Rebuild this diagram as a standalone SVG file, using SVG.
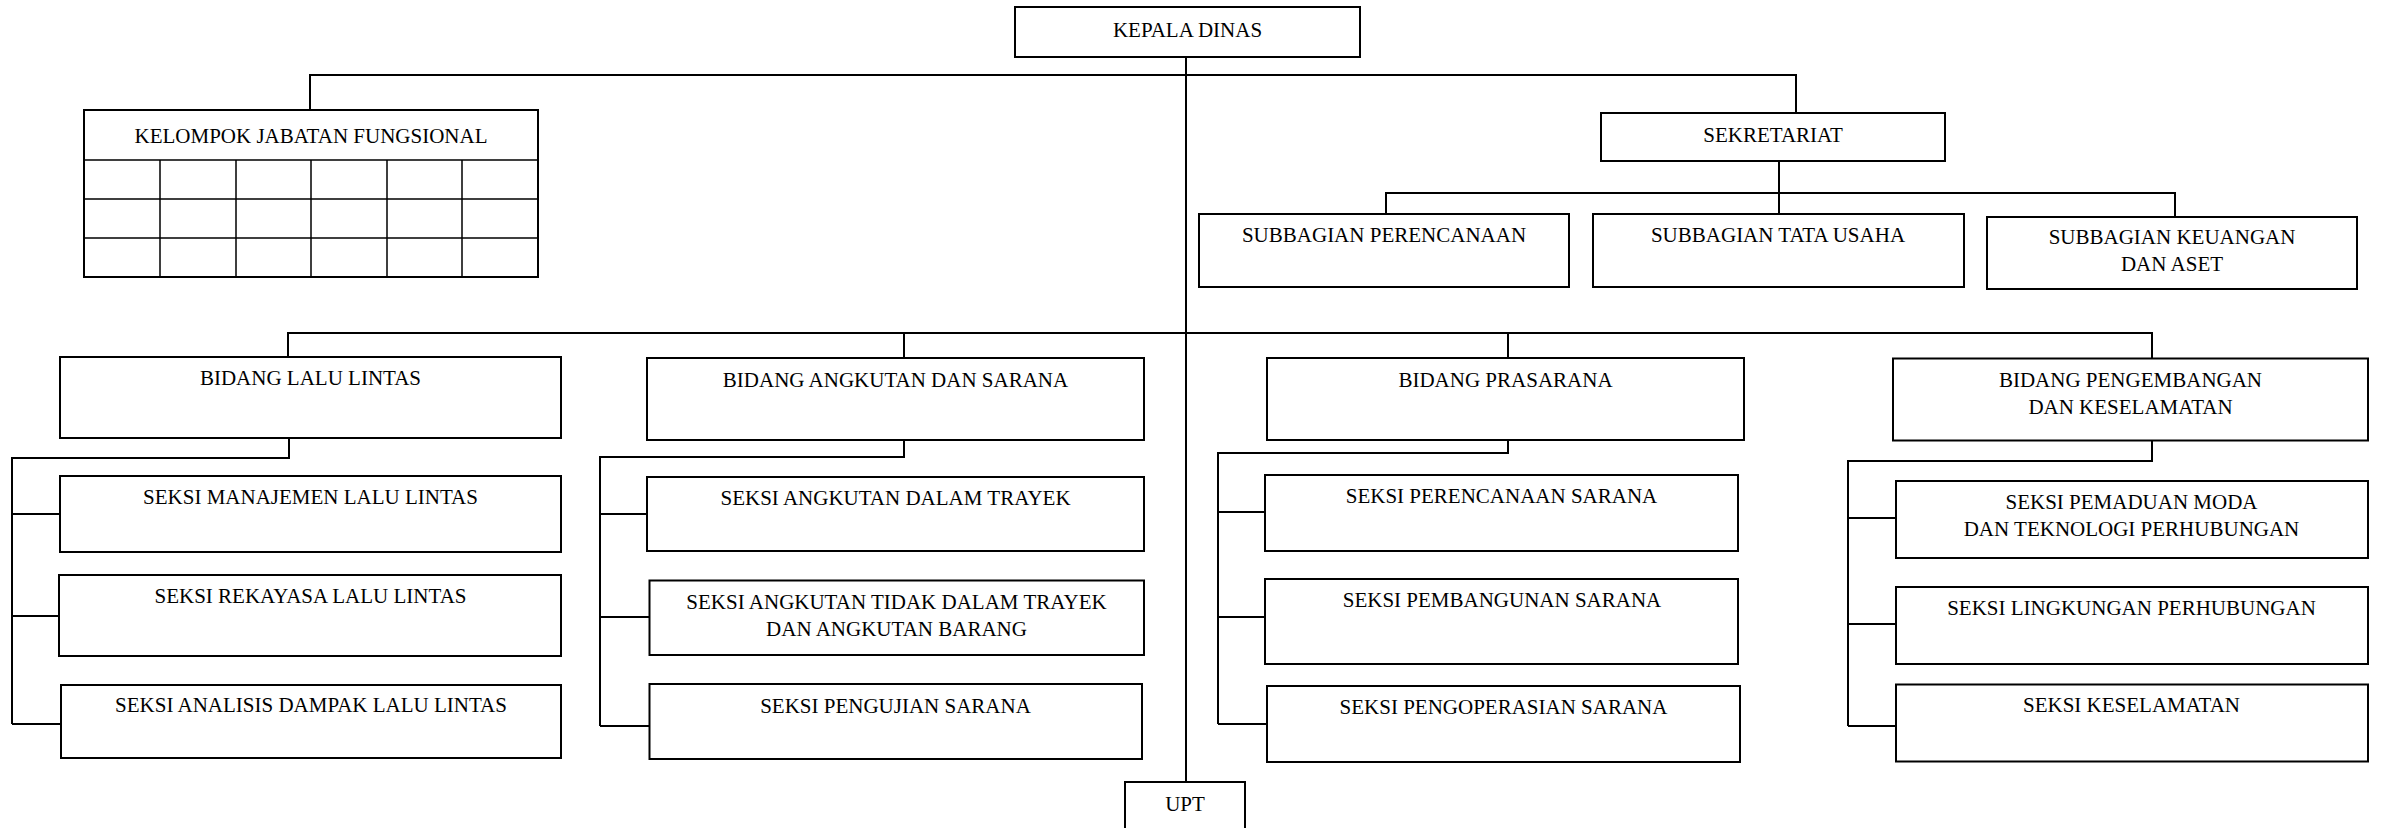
<svg xmlns="http://www.w3.org/2000/svg" width="2381" height="828" viewBox="0 0 2381 828">
<style>
.box{fill:#fff;stroke:#000;stroke-width:2}
.grid{fill:none;stroke:#000;stroke-width:1.5}
.ln{fill:none;stroke:#000;stroke-width:2}
text{font-family:"Liberation Serif","Times New Roman",serif;font-size:21px;text-anchor:middle;fill:#000}
</style>
<rect width="2381" height="828" fill="#fff"/>
<g id="connectors">
<path class="ln" d="M1186,57 V782"/>
<path class="ln" d="M310,110 V75 H1796 V113"/>
<path class="ln" d="M1779,161 V214 M1386,214 V193 H2175 V217"/>
<path class="ln" d="M288,357 V333 H2152 V358 M904,333 V358 M1508,333 V358"/>
<path class="ln" d="M289,438 V458 H12 V724 M12,514 H60 M12,616 H59 M12,724 H61"/>
<path class="ln" d="M904,440 V457 H600 V726 M600,514 H647 M600,617 H649 M600,726 H649"/>
<path class="ln" d="M1508,440 V453 H1218 V724 M1218,512 H1265 M1218,617 H1265 M1218,724 H1267"/>
<path class="ln" d="M2152,440 V461 H1848 V726 M1848,518 H1896 M1848,624 H1896 M1848,726 H1896"/>
</g>
<g id="kepala-dinas"><rect class="box" x="1015" y="7" width="345" height="50"/><text x="1187.5" y="37">KEPALA DINAS</text></g>
<g id="kelompok-jabatan-fungsional">
<rect class="box" x="84" y="110" width="454" height="167"/>
<path class="grid" d="M84,160 H538 M84,199 H538 M84,238 H538 M160,160 V277 M236,160 V277 M311,160 V277 M387,160 V277 M462,160 V277"/>
<text x="311" y="143">KELOMPOK JABATAN FUNGSIONAL</text>
</g>
<g id="sekretariat"><rect class="box" x="1601" y="113" width="344" height="48"/><text x="1773" y="142">SEKRETARIAT</text></g>
<g id="subbagian-perencanaan"><rect class="box" x="1199" y="214" width="370" height="73"/><text x="1384" y="242">SUBBAGIAN PERENCANAAN</text></g>
<g id="subbagian-tata-usaha"><rect class="box" x="1593" y="214" width="371" height="73"/><text x="1778" y="242">SUBBAGIAN TATA USAHA</text></g>
<g id="subbagian-keuangan"><rect class="box" x="1987" y="217" width="370" height="72"/><text x="2172" y="244">SUBBAGIAN KEUANGAN</text><text x="2172" y="271">DAN ASET</text></g>
<g id="bidang-lalu-lintas"><rect class="box" x="60" y="357" width="501" height="81"/><text x="310.5" y="385">BIDANG LALU LINTAS</text></g>
<g id="seksi-manajemen-lalu-lintas"><rect class="box" x="60" y="476" width="501" height="76"/><text x="310.5" y="504">SEKSI MANAJEMEN LALU LINTAS</text></g>
<g id="seksi-rekayasa-lalu-lintas"><rect class="box" x="59" y="575" width="502" height="81"/><text x="310.5" y="603">SEKSI REKAYASA LALU LINTAS</text></g>
<g id="seksi-analisis-dampak"><rect class="box" x="61" y="685" width="500" height="73"/><text x="311" y="712">SEKSI ANALISIS DAMPAK LALU LINTAS</text></g>
<g id="bidang-angkutan-sarana"><rect class="box" x="647" y="358" width="497" height="82"/><text x="895.5" y="386.5">BIDANG ANGKUTAN DAN SARANA</text></g>
<g id="seksi-angkutan-dalam-trayek"><rect class="box" x="647" y="477" width="497" height="74"/><text x="895.5" y="504.5">SEKSI ANGKUTAN DALAM TRAYEK</text></g>
<g id="seksi-angkutan-tidak-dalam-trayek"><rect class="box" x="649.5" y="580.5" width="494.5" height="74.5"/><text x="896.5" y="609">SEKSI ANGKUTAN TIDAK DALAM TRAYEK</text><text x="896.5" y="636">DAN ANGKUTAN BARANG</text></g>
<g id="seksi-pengujian-sarana"><rect class="box" x="649.5" y="684" width="492.5" height="75"/><text x="895.5" y="712.5">SEKSI PENGUJIAN SARANA</text></g>
<g id="bidang-prasarana"><rect class="box" x="1267" y="358" width="477" height="82"/><text x="1505.5" y="386.5">BIDANG PRASARANA</text></g>
<g id="seksi-perencanaan-sarana"><rect class="box" x="1265" y="475" width="473" height="76"/><text x="1501.5" y="503">SEKSI PERENCANAAN SARANA</text></g>
<g id="seksi-pembangunan-sarana"><rect class="box" x="1265" y="579" width="473" height="85"/><text x="1502" y="607">SEKSI PEMBANGUNAN SARANA</text></g>
<g id="seksi-pengoperasian-sarana"><rect class="box" x="1267" y="686" width="473" height="76"/><text x="1503.5" y="714">SEKSI PENGOPERASIAN SARANA</text></g>
<g id="bidang-pengembangan"><rect class="box" x="1893" y="358.5" width="475" height="82"/><text x="2130.5" y="386.5">BIDANG PENGEMBANGAN</text><text x="2130.5" y="413.5">DAN KESELAMATAN</text></g>
<g id="seksi-pemaduan-moda"><rect class="box" x="1896" y="481" width="472" height="77"/><text x="2131.5" y="508.5">SEKSI PEMADUAN MODA</text><text x="2131.5" y="535.5">DAN TEKNOLOGI PERHUBUNGAN</text></g>
<g id="seksi-lingkungan-perhubungan"><rect class="box" x="1896" y="587" width="472" height="77"/><text x="2131.5" y="615">SEKSI LINGKUNGAN PERHUBUNGAN</text></g>
<g id="seksi-keselamatan"><rect class="box" x="1896" y="684.5" width="472" height="77"/><text x="2131.5" y="712">SEKSI KESELAMATAN</text></g>
<g id="upt"><rect class="box" x="1125" y="782" width="120" height="60"/><text x="1185" y="811">UPT</text></g>
</svg>
